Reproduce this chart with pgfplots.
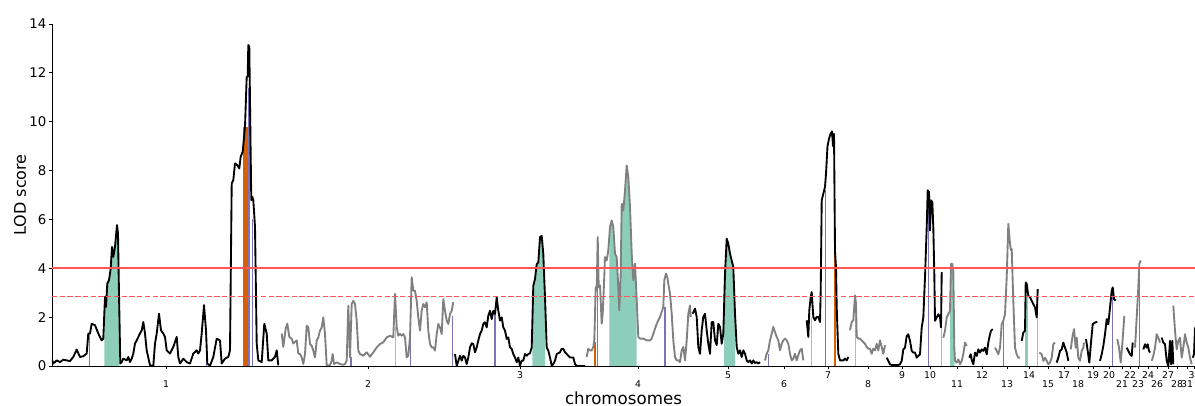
\documentclass[border=0pt]{standalone}
\usepackage{fontspec}
\setmainfont{DejaVu Sans}
\usepackage{pgfplots}
\pgfplotsset{compat=1.18}
\definecolor{tealf}{RGB}{141,206,187}
\definecolor{purp}{RGB}{122,117,183}
\definecolor{orng}{RGB}{217,95,2}
\definecolor{redl}{RGB}{255,85,85}
\definecolor{gry}{RGB}{128,128,128}
\begin{document}
\begin{tikzpicture}
\begin{axis}[name=ax, scale only axis, width=857.25pt, height=256.5pt,
  xmin=52, xmax=1195, ymin=0, ymax=14,
  axis x line*=bottom, axis y line*=left,
  axis line style={black, line width=0.6pt},
  tick align=outside, major tick length=2.6pt,
  tick style={black, line width=0.6pt},
  /pgf/number format/assume math mode=true,
  ytick={0,2,...,14},
  yticklabel style={font=\fontsize{10}{12}\selectfont, inner sep=1.5pt},
  xtick={520,728,828,902,930,982,1029,1064,1093,1109,1130,1148,1168,1194.5},
  xticklabels={3,5,7,9,10,12,14,17,19,20,22,24,27,30},
  xticklabel style={font=\fontsize{7}{8}\selectfont, anchor=center, yshift=-4pt},
  extra x ticks={166,368,638,784,868,957,1007,1048,1078,1122,1138,1157,1177,1187},
  extra x tick labels={1,2,4,6,8,11,13,15,18,21,23,26,28,31},
  extra x tick style={xticklabel style={yshift=-7.2pt}},
  xlabel={chromosomes}, ylabel={LOD score},
  xlabel style={font=\fontsize{12.5}{14}\selectfont, at={(axis description cs:0.5,-0.0936)}, anchor=center},
  ylabel style={font=\fontsize{12}{14}\selectfont, at={(axis description cs:-0.028,0.5)}, anchor=center},
  every axis plot/.append style={line join=round},
]
% green intervals
\addplot[fill=tealf, draw=none] coordinates {(104.3,2.5)(105,2.83)(106,2.42)(107.3,3.37)(109,3.51)(110.7,3.99)(112,4.88)(113.3,4.47)(115,4.88)(117,5.77)(118,5.42)(119,2.96)(119.3,2.5)} \closedcycle;
\addplot[fill=tealf, draw=none] coordinates {(532.3,1.7)(533.3,3.29)(535,3.56)(536.7,4.17)(538.3,4.24)(540,5.27)(541.7,5.33)(543.3,4.58)(545,2.81)} \closedcycle;
\addplot[fill=tealf, draw=none] coordinates {(609.3,5.4)(610,5.69)(611.7,5.96)(613.3,5.69)(615,4.6)(616.7,4.46)(618.3,3.23)(619.3,2.28)(620.7,3.78)(621.7,6.64)(623.3,6.37)(625,7.19)(626.7,8.21)(628.3,7.74)(630,6.51)(631.7,4.6)(633.3,3.51)(635,4.19)(636.7,2.69)} \closedcycle;
\addplot[fill=tealf, draw=none] coordinates {(724,2.5)(725,3.78)(726.7,5.21)(728.3,5.01)(730,4.6)(731.7,4.32)(733.3,4.05)(735,2.14)} \closedcycle;
\addplot[fill=tealf, draw=none] coordinates {(950,2.26)(951,4.18)(952.3,4.18)(953.3,3.90)(954.6,0.75)} \closedcycle;
\addplot[fill=tealf, draw=none] coordinates {(1025,1.44)(1025.7,3.42)(1026.7,3.36)(1027.8,3.0)} \closedcycle;
% vertical markers
\addplot[ycomb, purp, line width=1.1pt, mark=none] coordinates {(89.3,1.33)(206.7,0.9)(249,11.4)(252.3,6.0)(351,0.35)(410.7,1.17)(452.7,2.06)(495,2.13)(597.7,3.3)(665,2.4)(768.3,0.5)(825.7,7.2)(928.3,7.1)(1003.3,1.85)(1112.3,2.9)(1139.3,4.2)};
\addplot[ycomb, tealf, line width=1.1pt, mark=none] coordinates {(395.7,1.6)(811.7,2.0)(855.3,2.8)(941.7,2.1)(952.3,4.18)(1037.7,3.15)};
\addplot[ycomb, orng, line width=3.75pt, mark=none] coordinates {(245.8,9.8)};
\addplot[ycomb, orng, line width=1.6pt, mark=none] coordinates {(595,1.0)(835,5.7)};
% curves
\pgfplotsset{every axis plot/.append style={line width=1.4pt}}
\addplot[black] coordinates {(51.7,0.30)(53.3,0.10)(56.7,0.23)(60,0.16)(63.3,0.26)(66.7,0.23)(70,0.2)(73.3,0.37)(76.7,0.67)(80,0.37)(83.3,0.40)(86.7,0.51)(88.3,1.33)(90,1.33)(91.7,1.73)(95,1.67)(98.3,1.33)(101.7,1.05)(103.3,1.12)(105,2.83)(106,2.42)(107.3,3.37)(109,3.51)(110.7,3.99)(112,4.88)(113.3,4.47)(115,4.88)(117,5.77)(118,5.42)(119,2.96)(120.3,0.10)(121.7,0.16)(123.3,0.30)(126.7,0.23)(128.3,0.37)(130,0.16)(131.7,0.30)(133.3,0.51)(135,0.92)(136.7,1.05)(140,1.33)(141.7,1.46)(143.3,1.80)(145,1.33)(146.7,0.64)(150,0.03)(153.3,0)(155,0.92)(156.7,1.33)(159,2.14)(161,1.46)(163.3,1.33)(165,1.19)(166.7,0.64)(170,0.51)(173.3,0.78)(176.7,1.19)(178.3,0.37)(180,0.10)(183.3,0.30)(186.7,0.16)(190,0.10)(193.3,0.51)(196.7,0.64)(198.3,0.51)(200,0.64)(201.7,1.33)(204,2.49)(206,1.46)(207.3,0.10)(210,0.01)(213.3,0.37)(216.7,1.12)(220,1.05)(221.7,0.10)(225,0.30)(228.3,0.37)(230,0.64)(231.7,7.47)(233.3,7.61)(235,8.29)(237.3,8.22)(239.3,8.09)(240.7,8.57)(242.7,8.77)(245,9.80)(246.7,11.84)(247.7,11.84)(248.3,13.14)(249.3,13.07)(250.7,8.57)(251.3,6.79)(252.3,6.93)(253.3,6.79)(255,5.70)(256.7,0.92)(258.3,0.23)(261.7,0.16)(264.3,1.73)(266.7,1.33)(268.3,0.23)(271.7,0.23)(275,0.37)(276.7,0.64)(278.3,0.03)};
\addplot[gry] coordinates {(281.7,1.33)(283.3,0.78)(285.7,1.53)(287.3,1.73)(289.3,1.19)(291.7,1.12)(293.3,0.92)(296.7,1.05)(298.3,0.51)(300,0.49)(301.7,0.35)(303.3,0.08)(305,0.49)(306.7,1.65)(308.3,1.58)(310,0.90)(311.7,0.83)(313.3,0.63)(315,0.35)(316.7,1.04)(318.3,1.17)(320,1.45)(321.7,1.58)(323.3,1.99)(325,1.31)(326.7,0.03)(330,0.03)(331.7,0.22)(332.7,0.49)(334,0.08)(336.7,0.15)(340,0.08)(343.3,0.05)(345,0.08)(346.7,0.22)(348.3,2.47)(350,0.35)(351.7,2.54)(353.3,2.67)(355,2.54)(356.7,1.86)(358.3,0.63)(360,0.49)(363.3,0.42)(366.7,0.56)(370,0.38)(373.3,0.56)(376.7,0.76)(380,0.90)(383.3,0.97)(386.7,1.17)(390,1.24)(393.3,1.17)(395,2.95)(396.7,1.58)(398.3,1.24)(400,1.31)(401.7,1.24)(403.3,1.31)(405,1.17)(406.7,0.35)(408.3,0.42)(410,1.17)(411.7,3.63)(413.3,3.08)(415,3.08)(416.7,2.67)(418.3,1.99)(420,1.45)(421.7,2.26)(423.3,2.54)(425,2.40)(426.7,2.61)(428.3,1.45)(430,0.90)(431.7,0.76)(433.3,0.76)(435,0.63)(436.7,1.31)(438.3,1.72)(440,1.58)(441.7,1.31)(443.3,2.74)(445,2.26)(446.7,1.86)(448.3,1.72)(450,2.13)(451.7,2.26)(453.3,2.61)};
\addplot[black] coordinates {(455,0.49)(456.7,0.01)(460,0.42)(461.7,0.22)(463.3,0.42)(465,0.35)(466.7,0.08)(468.3,0.35)(470,0.76)(471.7,0.93)(473.3,0.90)(475,0.56)(476.7,0.76)(478.3,1.04)(480,1.31)(481.7,1.45)(483.3,1.72)(485,1.79)(486.7,1.58)(488.3,2.06)(490,2.26)(491.7,1.92)(493.3,2.26)(495,2.13)(496.7,2.81)(498.3,2.26)(500,1.86)(501.7,1.99)(503.3,1.58)(505,1.45)(506.7,1.11)(508.3,1.17)(510,0.76)(511.7,0.70)(513.3,0.49)(515,0.35)(516.7,0.15)(518.3,0.35)(520,0.01)(521.7,0.22)(523.3,0.22)(525,0.49)(526.7,0.42)(528.3,0.49)(530,0.52)(531.7,0.76)(533.3,3.29)(535,3.56)(536.7,4.17)(538.3,4.24)(540,5.27)(541.7,5.33)(543.3,4.58)(545,2.81)(546.7,0.76)(548.3,0.63)(550,0.35)(551.7,0.01)(553.3,0.08)(555,0.22)(556.7,0.49)(560,0.56)(561.7,0.70)(563.3,0.70)(565,0.56)(566.7,0.49)(570,0.35)(573.3,0.35)(575,0.08)(576.7,0)(585,0)};
\addplot[gry] coordinates {(586.7,0.37)(588.3,0.71)(590,0.64)(591.7,0.64)(593.3,0.78)(594.3,1.05)(595.7,3.23)(596.7,3.10)(597.7,5.28)(598.7,3.23)(600,3.30)(601.7,1.73)(602.7,2.14)(604,3.37)(605,4.46)(606.7,4.32)(608.3,4.73)(610,5.69)(611.7,5.96)(613.3,5.69)(615,4.60)(616.7,4.46)(618.3,3.23)(619.3,2.28)(620.7,3.78)(621.7,6.64)(623.3,6.37)(625,7.19)(626.7,8.21)(628.3,7.74)(630,6.51)(631.7,4.60)(633.3,3.51)(635,4.19)(636.7,2.69)(638.3,1.19)(640,1.12)(643.3,1.12)(646.7,1.05)(650,1.05)(651.7,1.12)(653.3,1.32)(656.7,1.73)(660,2.01)(663.3,2.41)(664.3,3.51)(666,3.78)(667.3,3.64)(668.3,3.37)(670,2.96)(671.7,2.14)(673.3,1.05)(675,0.37)(676.7,0.23)(678.3,0.23)(680,0.16)(681.7,0.64)(683.3,0.78)(685,0.23)(686.7,1.05)(688.3,2.14)(690,2.48)(690.7,2.0)};
\addplot[black] coordinates {(692.7,2.14)(695,2.35)(696.7,2.01)(698.3,0.78)(700,0.50)(701.7,1.46)(703.3,2.01)(705,2.14)(706.7,1.46)(708.3,0.91)(710,0.50)(711.7,1.80)(713.3,1.80)(715,1.05)(716.7,0.85)(718.3,1.73)(720,1.60)(721.7,0.91)(723.3,1.32)(725,3.78)(726.7,5.21)(728.3,5.01)(730,4.60)(731.7,4.32)(733.3,4.05)(735,2.14)(736.7,0.78)(738.3,0.50)(740,0.64)(741.7,0.37)(743.3,0.64)(745,0.50)(746.7,0.23)(748.3,0.16)(750,0.23)(751.7,0.10)(753.3,0.23)(755,0.12)(756.7,0.16)(758.3,0.10)(760,0.16)};
\addplot[gry] coordinates {(765,0.23)(766.7,0.50)(768.3,0.64)(770,1.05)(771.7,1.32)(773.3,1.60)(775,1.39)(776.7,1.19)(778.3,1.05)(780,0.64)(781.7,0.91)(783.3,1.05)(785,1.12)(786.7,1.05)(788.3,0.91)(790,0.50)(791.7,0.23)(793.3,0.30)(795,0.50)(796.7,0.23)(798.3,0.44)(800,0.64)(801.7,0.71)(803.3,0.23)};
\addplot[black] coordinates {(806.7,1.87)(808.3,1.19)(809.3,2.28)(810.7,2.82)(811.7,3.03)(813.3,2.01)(815,1.87)(816.7,2.01)(818.3,2.01)(820,1.80)(820.7,3.10)(821.7,6.78)(823.3,7.05)(825,7.33)(826,7.87)(827.5,9.0)(829,9.3)(830.5,9.5)(832,9.6)(833,9.0)(834,9.5)(835,4.7)(836,4.05)(836.7,2.4)(838.3,0.5)(840,0.23)(843.3,0.23)(845,0.3)(846.7,0.23)(848.3,0.37)};
\addplot[gry] coordinates {(850,1.46)(851.7,1.80)(853.3,1.87)(855,2.89)(856,2.55)(856.7,1.19)(858.3,1.12)(860,1.12)(861.7,1.05)(863.3,0.98)(865,0.91)(866.7,0.78)(868.3,0.71)(870,0.71)(871.7,0.50)(873.3,0.71)(875,0.64)(876.7,0.91)(878.3,0.64)(880,1.05)(881.7,0.78)(883.3,0.50)(885,0.85)};
\addplot[black] coordinates {(886.7,0.34)(888.3,0.21)(890,0.07)(891.7,0.04)(898.3,0.04)(900,0.07)(901.7,0.21)(903.3,0.68)(905,0.75)(906.7,1.23)(908.3,1.30)(910,1.03)(911.7,0.62)(913.3,0.55)(915,0.55)(916.7,0.34)(918.3,0.41)(920,0.48)(921.7,1.58)(923.3,1.99)(925,3.63)(926.7,5.68)(927.7,7.19)(929,7.12)(930,5.55)(931,6.78)(932.3,6.71)(933.3,5.68)(934.3,3.77)(935,1.85)(936.7,1.99)(938.3,2.12)(940,1.99)(941,1.58)(941.7,3.84)};
\addplot[gry] coordinates {(943.3,1.16)(945,1.44)(946.7,1.99)(948.3,2.12)(950,2.26)(951,4.18)(952.3,4.18)(953.3,3.90)(954.3,0.75)(955,0.21)(956.7,0.14)(958.3,0.27)(960,0.07)(961.7,0.21)(963.3,0.48)(965,0.96)(966.7,0.82)};
\addplot[black] coordinates {(969.3,0.34)(970.7,0.48)(972,0.21)(973.3,0.07)(975,0.55)(976.7,0.41)(978.3,0.68)(980,0.55)(981.7,0.68)(983.3,0.62)(985,0.75)(986.7,0.48)(988.3,0.96)(990,1.30)(991,1.44)(992.7,1.51)};
\addplot[gry] coordinates {(995,0.75)(996.7,0.62)(998.3,0.48)(1000,0.75)(1001.7,1.71)(1003.3,1.85)(1005,2.12)(1006.7,3.63)(1008.3,5.82)(1010,5.00)(1011,4.73)(1011.7,4.79)(1013.3,2.67)(1015,0.75)(1016.7,0.48)(1018.3,0.34)(1020,0.34)};
\addplot[black] coordinates {(1021.7,1.03)(1023.3,1.37)(1025,1.44)(1025.7,3.42)(1026.7,3.36)(1028.3,2.88)(1030,2.81)(1031.7,2.67)(1033.3,2.53)(1035,2.40)(1036.7,1.99)(1037.7,3.15)};
\addplot[gry] coordinates {(1039.3,0.55)(1041.7,0.48)(1043.3,0.21)(1045,0.34)(1046.7,0.21)(1048.3,0.07)(1050,0.14)(1051.7,0.34)(1053.3,0.89)(1055,0.96)};
\addplot[black] coordinates {(1056.7,0.14)(1058.3,0.34)(1060,0.62)(1061.7,0.68)(1063.3,0.96)(1065,0.75)(1066.7,0.55)(1068.3,0.21)};
\addplot[gry] coordinates {(1070.7,0.68)(1072.3,1.16)(1074,1.51)(1075.7,0.75)(1076.7,1.16)(1078.3,0.34)(1080,0.21)(1081.7,0.62)(1083.3,0.75)(1084,0.96)};
\addplot[black] coordinates {(1086,1.10)(1087.7,0.62)(1089.3,0.14)(1091,0.96)(1092.7,1.71)(1095,1.78)(1097.3,1.81)};
\addplot[black] coordinates {(1100,0.21)(1101.7,0.48)(1103.3,0.82)(1105,1.30)(1106.7,1.92)(1108.3,1.71)(1110,2.40)(1111.7,3.08)(1112.7,3.22)(1114,2.74)(1115.7,2.67)};
\addplot[gry] coordinates {(1117.3,1.10)(1119,0.75)(1120.7,0.14)(1122.3,0.89)(1124.3,2.05)};
\addplot[black] coordinates {(1126.7,0.75)(1128.3,0.62)(1130,0.48)(1131.7,0.41)(1132.7,0.96)};
\addplot[gry] coordinates {(1135,0.75)(1136.7,1.99)(1138.3,3.22)(1139.3,4.18)(1140.7,4.32)};
\addplot[black] coordinates {(1143.3,0.68)(1145,0.89)(1146.7,0.75)(1147.7,0.89)(1149,0.62)(1150,0.55)};
\addplot[gry] coordinates {(1151.7,0.21)(1153.3,0.41)(1155,0.75)(1156.7,1.30)(1158.3,1.16)(1160,0.96)};
\addplot[black] coordinates {(1161.7,1.16)(1163.3,0.96)(1165,0.89)(1166.7,0.21)(1168.3,0)(1170,1.03)(1171,0.07)(1172.3,1.03)(1173.3,0.07)};
\addplot[gry] coordinates {(1173.3,2.47)(1175,1.44)(1176.7,0.68)(1178.3,1.03)(1180,1.16)(1181.7,0.34)(1183.3,0.75)(1185,1.30)(1186.7,0.96)(1188.3,0.75)(1190,0.34)(1191.7,0.07)};
\addplot[black] coordinates {(1192.7,0.34)(1194,0.48)(1195,1.58)};
% thresholds
\addplot[redl, line width=1.2pt] coordinates {(52,4.0)(1195,4.0)};
\addplot[redl, line width=1.2pt, dash pattern=on 4pt off 1.8pt] coordinates {(52,2.85)(1195,2.85)};
\end{axis}
\pgfresetboundingbox
\path[use as bounding box] ([xshift=-39pt,yshift=-30pt]ax.south west) rectangle ([yshift=18pt]ax.north east);
\end{tikzpicture}
\end{document}
